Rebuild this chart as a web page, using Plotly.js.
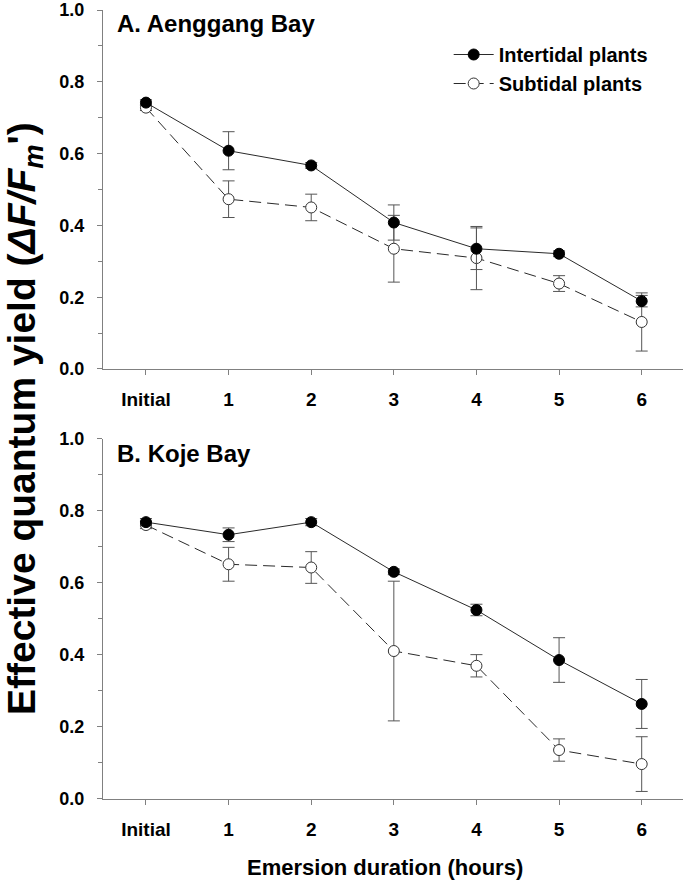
<!DOCTYPE html>
<html>
<head>
<meta charset="utf-8">
<script src="https://cdn.plot.ly/plotly-3.0.1.min.js"></script>
<style>html,body{margin:0;padding:0;background:#fff;}#chart{width:685px;height:883px;}</style>
</head>
<body>
<div id="chart"></div>
<script>
var categories = ['Initial', '1', '2', '3', '4', '5', '6'];
var seriesNames = ['Intertidal plants', 'Subtidal plants'];
var panelTitles = ['A. Aenggang Bay', 'B. Koje Bay'];

var aInter    = [0.742, 0.608, 0.567, 0.408, 0.335, 0.321, 0.189];
var aInterErr = [0.008, 0.053, 0.008, 0.049, 0.058, 0.008, 0.016];
var aSub      = [0.728, 0.473, 0.450, 0.335, 0.309, 0.238, 0.131];
var aSubErr   = [0.008, 0.051, 0.037, 0.093, 0.088, 0.022, 0.081];

var bInter    = [0.769, 0.734, 0.769, 0.631, 0.525, 0.386, 0.264];
var bInterErr = [0.010, 0.019, 0.010, 0.008, 0.016, 0.062, 0.068];
var bSub      = [0.761, 0.652, 0.643, 0.411, 0.370, 0.136, 0.097];
var bSubErr   = [0.010, 0.047, 0.044, 0.194, 0.031, 0.031, 0.076];

var FONT = 'Arial, "Liberation Sans", sans-serif';
var AX = '#808080';
var LINE = '#2a2a2a';
var ERR = '#555555';

function tr(y, err, filled, xa, ya, name, show) {
  return {
    type: 'scatter', mode: 'lines+markers',
    x: categories, y: y, xaxis: xa, yaxis: ya,
    name: name, showlegend: show,
    line: {color: LINE, width: 1, dash: filled ? 'solid' : '12px,6px'},
    marker: {size: 11, symbol: 'circle', color: filled ? '#000000' : '#ffffff',
             line: {color: filled ? '#000000' : '#333333', width: 1}},
    error_y: {type: 'data', array: err, visible: true, color: ERR, thickness: 1, width: 6},
    cliponaxis: false
  };
}

var data = [
  tr(aSub, aSubErr, false, 'x', 'y', seriesNames[1], true),
  tr(aInter, aInterErr, true, 'x', 'y', seriesNames[0], true),
  tr(bSub, bSubErr, false, 'x2', 'y2', seriesNames[1], false),
  tr(bInter, bInterErr, true, 'x2', 'y2', seriesNames[0], false)
];

function xax(anchor) {
  return {
    anchor: anchor, type: 'category', categoryorder: 'array', categoryarray: categories,
    range: [-0.52, 6.5], showline: true, linecolor: AX, linewidth: 1,
    ticks: 'outside', ticklen: 5, tickcolor: AX, tickwidth: 1,
    showgrid: false, zeroline: false,
    tickfont: {family: FONT, size: 19, color: '#000', weight: 700},
    ticklabelstandoff: 8, fixedrange: true
  };
}
function yax(anchor, dom) {
  return {
    anchor: anchor, domain: dom, range: [0, 1], dtick: 0.2, tick0: 0,
    tickformat: '.1f', showline: true, linecolor: AX, linewidth: 1,
    ticks: 'outside', ticklen: 5, tickcolor: AX, tickwidth: 1,
    minor: {dtick: 0.1, ticks: 'outside', ticklen: 4, tickcolor: AX, showgrid: false},
    showgrid: false, zeroline: false,
    tickfont: {family: FONT, size: 18, color: '#000', weight: 700},
    ticklabeloverflow: 'allow',
    ticklabelstandoff: 9, fixedrange: true
  };
}

var layout = {
  width: 685, height: 883,
  margin: {l: 103, r: 2, t: 10, b: 84},
  paper_bgcolor: '#fff', plot_bgcolor: '#fff',
  font: {family: FONT, color: '#000'},
  showlegend: true,
  legend: {x: 0.596, y: 0.9683, xanchor: 'left', yanchor: 'top',
           bgcolor: 'rgba(0,0,0,0)', traceorder: 'reversed', itemwidth: 40,
           font: {family: FONT, size: 20, color: '#000', weight: 700}},
  xaxis: xax('y'),
  yaxis: yax('x', [0.545, 1]),
  xaxis2: xax('y2'),
  yaxis2: yax('x2', [0, 0.4563]),
  annotations: [
    {text: panelTitles[0], xref: 'paper', yref: 'paper', x: 0.0207, y: 0.9829,
     xanchor: 'left', yanchor: 'middle', showarrow: false,
     font: {family: FONT, size: 24, color: '#000', weight: 700}},
    {text: panelTitles[1], xref: 'paper', yref: 'paper', x: 0.0207, y: 0.4373,
     xanchor: 'left', yanchor: 'middle', showarrow: false,
     font: {family: FONT, size: 24, color: '#000', weight: 700}},
    {text: 'Emersion duration (hours)', xref: 'paper', yref: 'paper', x: 0.487, y: -0.0862,
     xanchor: 'center', yanchor: 'middle', showarrow: false,
     font: {family: FONT, size: 22, color: '#000', weight: 700}},
    {text: "Effective quantum yield (<i>ΔF/F<sub>m</sub></i>')", xref: 'paper', yref: 'paper',
     x: -0.1345, y: 0.4829, xanchor: 'center', yanchor: 'middle', textangle: -90, showarrow: false,
     font: {family: FONT, size: 39, color: '#000', weight: 700}}
  ]
};

Plotly.newPlot('chart', data, layout, {staticPlot: true, displayModeBar: false});
</script>
</body>
</html>
